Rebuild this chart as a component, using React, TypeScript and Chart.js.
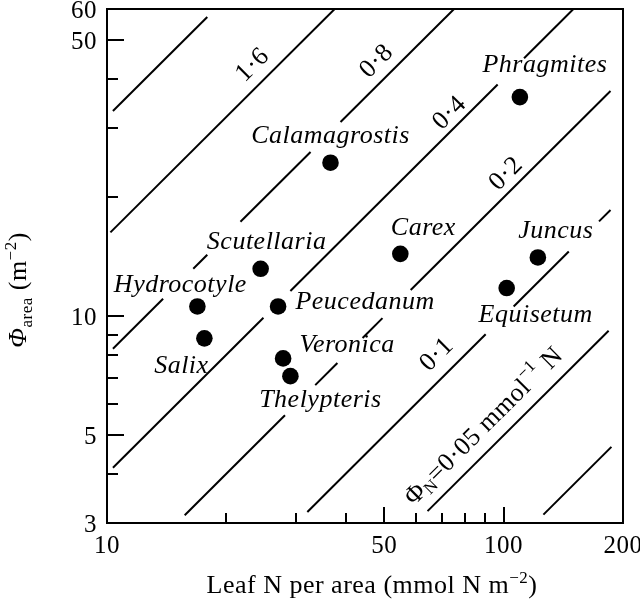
import React, { useEffect, useRef } from "react";
import { Chart, registerables } from "chart.js";

Chart.register(...registerables);

// ---------------- data ----------------
const speciesNames = [
  "Phragmites", "Calamagrostis", "Scutellaria", "Carex", "Juncus",
  "Hydrocotyle", "Peucedanum", "Equisetum", "Salix", "Veronica", "Thelypteris",
];
const leafNPerArea = [109.9, 36.6, 24.4, 54.9, 122, 16.9, 27.0, 101.8, 17.6, 27.8, 29.0];
const phiArea = [35.9, 24.5, 13.2, 14.4, 14.1, 10.6, 10.6, 11.8, 8.8, 7.83, 7.06];

// iso-lines of Phi_N = Phi_area / N  (mmol^-1 N)
const isoPhiN = [3.2, 1.6, 0.8, 0.4, 0.2, 0.1, 0.05, 0.025];
// visible pieces of each iso-line, as leaf-N ranges
const isoSegmentsN = [
  [[10.35, 17.9]],
  [[10.2, 37.5]],
  [[10.35, 13.85], [16.5, 17.9], [21.7, 32.6], [38.8, 75]],
  [[10.35, 24.8], [29.0, 96.6], [112.6, 150]],
  [[15.7, 28.1], [33.5, 38.1], [44.1, 49.5], [58.3, 186]],
  [[32, 90.1], [106, 146], [174, 186]],
  [[64.3, 184]],
  [[126, 187]],
];
const isoLabelText = ["", "1·6", "0·8", "0·4", "0·2", "0·1", "0·05", ""];
const isoLabelAtN = [0, 25.1, 51.4, 77.3, 107.9, 73.7, 96.9, 0];

const xTickValues = [10, 20, 30, 40, 50, 60, 70, 80, 90, 100, 200];
const xTickLabels = ["10", "", "", "", "50", "", "", "", "", "100", "200"];
const yTickValues = [3, 4, 5, 6, 7, 8, 9, 10, 20, 30, 40, 50, 60];
const yTickLabels = ["3", "", "5", "", "", "", "", "10", "", "", "", "50", "60"];

// ---------------- styles ----------------
const SERIF = "'Liberation Serif', 'Times New Roman', serif";
const labelOffsets: [number, number][] = [
  [25, -25], [0, -20], [6, -20], [23, -19], [18, -19],
  [-17, -14], [87, 3], [29, 34], [-23, 35], [64, -6], [30, 31],
];
const isoLabelGap = [0, 18, 17.5, 13.5, 15, 20, 20, 0];

type Run = { t: string; size: number; italic?: boolean; dy?: number };

function runsWidth(ctx: CanvasRenderingContext2D, runs: Run[]) {
  let w = 0;
  for (const r of runs) {
    ctx.font = `${r.italic ? "italic " : ""}${r.size}px ${SERIF}`;
    w += ctx.measureText(r.t).width;
  }
  return w;
}
function drawRuns(ctx: CanvasRenderingContext2D, runs: Run[], x: number, y: number) {
  let cx = x;
  for (const r of runs) {
    ctx.font = `${r.italic ? "italic " : ""}${r.size}px ${SERIF}`;
    ctx.fillText(r.t, cx, y + (r.dy || 0));
    cx += ctx.measureText(r.t).width;
  }
}

const decorPlugin = {
  id: "decor",
  afterDraw(chart: any) {
    const { ctx, chartArea: a } = chart;
    const xs = chart.scales.x;
    const ys = chart.scales.y;
    ctx.save();
    (ctx as any).letterSpacing = "0.5px";
    ctx.strokeStyle = "#000";
    ctx.fillStyle = "#000";
    ctx.lineWidth = 2;
    ctx.lineCap = "butt";
    ctx.strokeRect(a.left, a.top, a.right - a.left, a.bottom - a.top);

    // inward ticks
    ctx.beginPath();
    xTickValues.forEach((v, i) => {
      if (v <= xs.min || v >= xs.max) return;
      const px = Math.round(xs.getPixelForValue(v));
      const len = xTickLabels[i] ? 16 : 10;
      ctx.moveTo(px, a.bottom);
      ctx.lineTo(px, a.bottom - len);
    });
    yTickValues.forEach((v, i) => {
      if (v <= ys.min || v >= ys.max) return;
      const py = Math.round(ys.getPixelForValue(v));
      const len = yTickLabels[i] ? 17 : 11;
      ctx.moveTo(a.left, py);
      ctx.lineTo(a.left + len, py);
    });
    ctx.stroke();

    // tick labels
    ctx.font = `25px ${SERIF}`;
    ctx.textBaseline = "alphabetic";
    ctx.textAlign = "center";
    xTickValues.forEach((v, i) => {
      if (!xTickLabels[i]) return;
      ctx.fillText(xTickLabels[i], xs.getPixelForValue(v), a.bottom + 30);
    });
    ctx.textAlign = "right";
    yTickValues.forEach((v, i) => {
      if (!yTickLabels[i]) return;
      ctx.fillText(yTickLabels[i], a.left - 10, ys.getPixelForValue(v) + 9);
    });

    // axis titles
    ctx.textAlign = "left";
    const xRuns: Run[] = [
      { t: "Leaf N per area (mmol N m", size: 26 },
      { t: "−2", size: 17, dy: -10 },
      { t: ")", size: 26 },
    ];
    const xw = runsWidth(ctx, xRuns);
    drawRuns(ctx, xRuns, 372 - xw / 2, 593);

    const yRuns: Run[] = [
      { t: "Φ", size: 26, italic: true },
      { t: "area", size: 17, dy: 6 },
      { t: " (m", size: 26 },
      { t: "−2", size: 17, dy: -10 },
      { t: ")", size: 26 },
    ];
    const yw = runsWidth(ctx, yRuns);
    ctx.save();
    ctx.translate(26, 290);
    ctx.rotate(-Math.PI / 2);
    drawRuns(ctx, yRuns, -yw / 2, 0);
    ctx.restore();

    // species labels
    ctx.font = `italic 26px ${SERIF}`;
    ctx.textAlign = "center";
    ctx.textBaseline = "alphabetic";
    speciesNames.forEach((name, i) => {
      const px = xs.getPixelForValue(leafNPerArea[i]);
      const py = ys.getPixelForValue(phiArea[i]);
      ctx.fillText(name, px + labelOffsets[i][0], py + labelOffsets[i][1]);
    });

    // iso-line labels
    isoPhiN.forEach((c, i) => {
      if (!isoLabelText[i]) return;
      const n = isoLabelAtN[i];
      const p0x = xs.getPixelForValue(n / 1.2);
      const p0y = ys.getPixelForValue((c * n) / 1.2);
      const p1x = xs.getPixelForValue(n * 1.2);
      const p1y = ys.getPixelForValue(c * n * 1.2);
      const ang = Math.atan2(p1y - p0y, p1x - p0x);
      const fx = xs.getPixelForValue(n);
      const fy = ys.getPixelForValue(c * n);
      ctx.save();
      ctx.translate(fx, fy);
      ctx.rotate(ang);
      ctx.textBaseline = "middle";
      if (c === 0.05) {
        const runs: Run[] = [
          { t: "Φ", size: 26 },
          { t: "N", size: 17, dy: 6 },
          { t: "=" + isoLabelText[i] + " mmol", size: 26 },
          { t: "−1", size: 17, dy: -10 },
          { t: " N", size: 26 },
        ];
        ctx.textAlign = "left";
        const w = runsWidth(ctx, runs);
        drawRuns(ctx, runs, -w / 2, -isoLabelGap[i]);
      } else {
        ctx.font = `26px ${SERIF}`;
        ctx.textAlign = "center";
        ctx.fillText(isoLabelText[i], 0, -isoLabelGap[i]);
      }
      ctx.restore();
    });

    ctx.restore();
  },
};

export default function App() {
  const ref = useRef<HTMLCanvasElement>(null);
  useEffect(() => {
    const canvas = ref.current;
    if (!canvas) return;
    const datasets: any[] = [];
    isoPhiN.forEach((c, i) => {
      isoSegmentsN[i].forEach(([n0, n1]) => {
        datasets.push({
          type: "line",
          data: [
            { x: n0, y: c * n0 },
            { x: n1, y: c * n1 },
          ],
          borderColor: "#000",
          borderWidth: 2,
          pointRadius: 0,
          pointHoverRadius: 0,
          fill: false,
          tension: 0,
        });
      });
    });
    datasets.push({
      type: "scatter",
      data: leafNPerArea.map((x, i) => ({ x, y: phiArea[i] })),
      pointRadius: 8.3,
      pointHoverRadius: 8.3,
      backgroundColor: "#000",
      borderColor: "#000",
      borderWidth: 0,
    });
    const chart = new Chart(canvas, {
      type: "scatter",
      data: { datasets },
      options: {
        animation: false,
        responsive: false,
        events: [],
        layout: { padding: { left: 107, right: 17, top: 9, bottom: 78 } },
        plugins: { legend: { display: false }, tooltip: { enabled: false } },
        scales: {
          x: { type: "logarithmic", min: 10, max: 200, display: false },
          y: { type: "logarithmic", min: 3, max: 60, display: false },
        },
      },
      plugins: [decorPlugin],
    } as any);
    return () => chart.destroy();
  }, []);
  return (
    <div style={{ position: "absolute", left: 0, top: 0, width: 640, height: 601, background: "#fff" }}>
      <canvas ref={ref} width={640} height={601} style={{ display: "block" }} />
    </div>
  );
}
